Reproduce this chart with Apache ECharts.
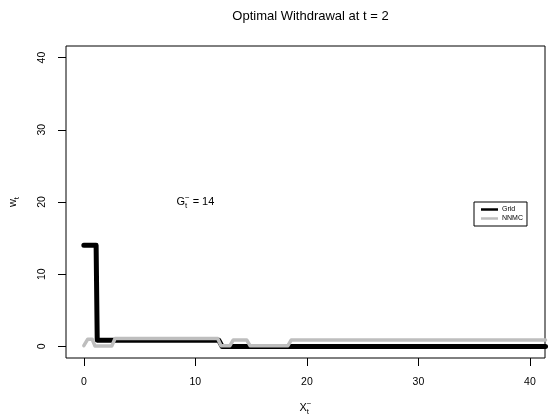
<!DOCTYPE html>
<html>
<head>
<meta charset="utf-8">
<script src="https://cdn.jsdelivr.net/npm/echarts@6/dist/echarts.min.js"></script>
<style>
  html, body { margin: 0; padding: 0; background: #fff; }
  #chart { width: 548px; height: 417px; }
</style>
</head>
<body>
<div id="chart"></div>
<script>
// values
var tickValues = [0, 10, 20, 30, 40];
var gridPoints = [[0, 14], [1.1, 14], [1.2, 0.85], [12.1, 0.85], [12.4, 0], [41.4, 0]];
var nnmcPoints = [
    [0, 0.1], [0.35, 1.0], [0.75, 1.0], [1.0, 0.05], [2.5, 0.05], [2.8, 1.1],
    [12.0, 1.1], [12.3, 0.1], [13.1, 0.1], [13.4, 0.9], [14.6, 0.9], [14.9, 0.1],
    [18.3, 0.1], [18.6, 0.9], [41.4, 0.9]
];
var seriesNames = ['Grid', 'NNMC'];
var annPos = [10, 20];
var annValue = 14;

var font = 'Liberation Sans, Arial, Helvetica, sans-serif';
var chart = echarts.init(document.getElementById('chart'), null, { renderer: 'canvas' });

var axisCommon = {
    type: 'value',
    axisLine: { show: false, onZero: false },
    splitLine: { show: false },
    axisTick: { show: true, inside: false, length: 8, customValues: tickValues, lineStyle: { color: '#000', width: 1 } },
    axisLabel: { customValues: tickValues, color: '#000', fontSize: 10.5, fontFamily: font }
};

chart.setOption({
    animation: false,
    title: {
        text: 'Optimal Withdrawal at t = 2',
        left: 305.5,
        textAlign: 'center',
        top: 5,
        textStyle: { fontSize: 13, fontWeight: 'normal', color: '#000', fontFamily: font }
    },
    grid: {
        left: 66, right: 3, top: 46, bottom: 59,
        show: true, borderColor: '#000', borderWidth: 1, backgroundColor: 'transparent'
    },
    xAxis: Object.assign({}, axisCommon, {
        min: -1.6, max: 41.35,
        axisLabel: Object.assign({}, axisCommon.axisLabel, { margin: 19 })
    }),
    yAxis: Object.assign({}, axisCommon, {
        min: -1.6, max: 41.6,
        axisLabel: Object.assign({}, axisCommon.axisLabel, { margin: 18, rotate: 90 })
    }),
    legend: {
        data: [
            { name: 'Grid', icon: 'rect' },
            { name: 'NNMC', icon: 'rect' }
        ],
        orient: 'vertical',
        left: 474, top: 202,
        itemWidth: 17, itemHeight: 2.5, itemGap: 2,
        padding: [4, 4, 4, 7],
        borderColor: '#000', borderWidth: 1,
        textStyle: { fontSize: 7, color: '#000', fontFamily: font, padding: [0, 0, 0, -1] }
    },
    series: [
        {
            name: seriesNames[0], type: 'line', data: gridPoints, showSymbol: false, symbol: 'none',
            lineStyle: { color: '#000', width: 5, cap: 'round', join: 'round' },
            itemStyle: { color: '#000' }, z: 2
        },
        {
            name: seriesNames[1], type: 'line', data: nnmcPoints, showSymbol: false, symbol: 'none',
            lineStyle: { color: '#bebebe', width: 3.5, cap: 'round', join: 'round' },
            itemStyle: { color: '#bebebe' }, z: 3
        }
    ]
});

// math-style texts: G_t^- annotation, axis titles
function mathText(base, sub, sup, rest, size) {
    var ctx = document.createElement('canvas').getContext('2d');
    ctx.font = size + 'px ' + font;
    var bw = ctx.measureText(base).width;
    ctx.font = (size * 0.72) + 'px ' + font;
    var sw = Math.max(ctx.measureText(sub || '').width, ctx.measureText(sup || '').width);
    ctx.font = size + 'px ' + font;
    var rw = rest ? ctx.measureText(rest).width : 0;
    var total = bw + sw + rw;
    var x0 = -total / 2;
    var kids = [
        { type: 'text', x: x0, y: 0, style: { text: base, fontSize: size, fontFamily: font, fill: '#000', verticalAlign: 'middle', align: 'left' } }
    ];
    if (sub) kids.push({ type: 'text', x: x0 + bw, y: size * 0.35, style: { text: sub, fontSize: size * 0.72, fontFamily: font, fill: '#000', verticalAlign: 'middle', align: 'left' } });
    if (sup) kids.push({ type: 'text', x: x0 + bw, y: -size * 0.4, style: { text: sup, fontSize: size * 0.72, fontFamily: font, fill: '#000', verticalAlign: 'middle', align: 'left' } });
    if (rest) kids.push({ type: 'text', x: x0 + bw + sw, y: 0, style: { text: rest, fontSize: size, fontFamily: font, fill: '#000', verticalAlign: 'middle', align: 'left' } });
    return kids;
}

var p = chart.convertToPixel({ gridIndex: 0 }, annPos);
var rect = chart.getModel().getComponent('grid', 0).coordinateSystem.getRect();
var cx = rect.x + rect.width / 2;
var cy = rect.y + rect.height / 2;

chart.setOption({
    graphic: [
        { type: 'group', x: p[0], y: p[1], children: mathText('G', 't', '\u2212', ' = ' + annValue, 11) },
        { type: 'group', x: cx, y: rect.y + rect.height + 50, children: mathText('X', 't', '\u2212', '', 11) },
        { type: 'group', x: 13, y: cy, rotation: Math.PI / 2, children: mathText('w', 't', '', '', 11) }
    ]
});
</script>
</body>
</html>
